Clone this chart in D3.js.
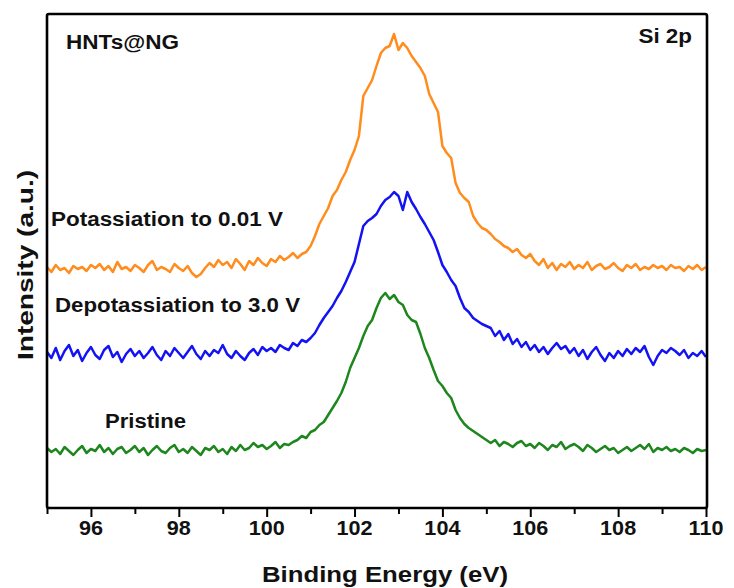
<!DOCTYPE html>
<html lang="en">
<script src="https://d3js.org/d3.v7.min.js"></script>

<head>
  <meta charset="UTF-8">
  <title>Si 2p XPS - HNTs@NG</title>
  <style>
    body {
      margin: 0;
      background: white;
    }

    svg {
      display: block;
    }

    text {
      font-family: "Liberation Sans", Arial, sans-serif;
      fill: #111;
    }

    .frame {
      fill: none;
      stroke: black;
      stroke-width: 2.6px;
      stroke-linejoin: round;
    }

    .spectrum {
      fill: none;
      stroke-width: 2.5px;
      stroke-linejoin: round;
    }

    .tick line {
      stroke: black;
      stroke-width: 2px;
    }
  </style>
</head>

<body>

  <svg width="734" height="588"></svg>

  <script>

    // binding energy grid (eV), one reading every 0.1 eV
    var energy = d3.range(0, 151).map(function (i) { return +(95 + i * 0.1).toFixed(1); });

    var xTicks = [95, 96, 97, 98, 99, 100, 101, 102, 103, 104, 105, 106, 107, 108, 109, 110];
    var xTickLabels = ["96", "98", "100", "102", "104", "106", "108", "110"];

    var seriesNames = ["Potassiation to 0.01 V", "Depotassiation to 3.0 V", "Pristine"];
    var seriesColors = ["#ff8c1c", "#1212f5", "#1d861d"];

    // intensities (a.u., offset stacked)
    var potassiated = [
      241, 236, 243, 238, 240, 235, 242, 239, 241, 237, 243,
      240, 244, 238, 242, 236, 246, 239, 241, 237, 243,
      240, 236, 243, 247, 238, 241, 239, 236, 244, 240,
      237, 242, 235, 231, 234, 240, 245, 241, 248, 243,
      246, 240, 249, 244, 238, 247, 243, 250, 245, 242,
      249, 246, 252, 248, 251, 255, 250, 254, 256, 262,
      272, 284, 292, 300, 312, 318, 328, 336, 348, 358,
      372, 412, 420, 428, 442, 455, 460, 462, 474, 458,
      465, 460, 452, 446, 440, 432, 414, 405, 396, 362,
      355, 350, 325, 315, 310, 306, 292, 285, 280, 278,
      274, 269, 266, 262, 260, 256, 259, 253, 250, 254,
      247, 243, 249, 240, 245, 238, 244, 241, 246, 239,
      243, 240, 246, 238, 242, 244, 239, 241, 245, 240,
      237, 243, 240, 244, 238, 241, 239, 243, 240, 242,
      238, 243, 240, 241, 237, 242, 239, 243, 238, 241
    ];

    var depotassiated = [
      156, 150, 160, 148, 157, 163, 152, 158, 147, 155, 161,
      153, 149, 158, 162, 151, 156, 146, 154, 159, 152,
      157, 150, 155, 161, 153, 148, 157, 152, 160, 155,
      150, 156, 162, 154, 149, 157, 152, 158, 155, 163,
      154, 150, 157, 152, 148, 155, 159, 153, 161, 157,
      160, 156, 163, 160, 158, 165, 162, 168, 166, 170,
      175, 183, 190, 196, 202, 210, 217, 226, 236, 246,
      264, 282, 287, 290, 294, 302, 308, 311, 316, 312,
      298, 316, 306, 299, 291, 284, 276, 268, 256, 243,
      236, 228, 222, 210, 200, 196, 190, 187, 184, 182,
      180, 172, 177, 168, 174, 164, 169, 161, 166, 158,
      163, 156, 161, 154, 160, 165, 159, 162, 155, 160,
      152, 158, 149, 156, 161, 153, 147, 155, 150, 157,
      152, 159, 154, 160, 156, 162, 151, 143, 152, 158,
      155, 160, 157, 153, 158, 150, 155, 152, 157, 151
    ];

    var pristine = [
      60, 56, 59, 54, 61, 57, 53, 58, 62, 55, 59,
      57, 63, 56, 60, 54, 59, 61, 55, 58, 62,
      56, 60, 53, 58, 62, 57, 55, 60, 63, 56,
      59, 55, 61, 57, 53, 60, 58, 62, 56, 59,
      54, 61, 57, 63, 58, 60, 65, 61, 63, 59,
      62, 66, 60, 64, 63, 66, 68, 72, 70, 76,
      78, 83, 86, 93, 100, 107, 115, 126, 140, 150,
      160, 172, 182, 188, 200, 210, 215, 209, 213, 206,
      203, 193, 188, 186, 174, 160, 150, 138, 127, 122,
      115, 110, 98, 90, 84, 80, 77, 74, 71, 68,
      65, 68, 62, 66, 64, 61, 65, 67, 62, 64,
      60, 65, 62, 58, 63, 61, 66, 59, 62, 64,
      61, 57, 63, 60, 56, 59, 62, 58, 60, 55,
      58, 61, 57, 60, 63, 59, 64, 56, 60, 58,
      61, 57, 59, 56, 60, 58, 55, 59, 57, 58
    ];

    var spectra = [potassiated, depotassiated, pristine];

    var svg = d3.select("svg");

    var plotLeft = 47, plotRight = 706, plotTop = 14, plotBottom = 508;

    var x = d3.scaleLinear().domain([95, 110]).range([plotLeft, plotRight]);
    var y = d3.scaleLinear().domain([0, 494]).range([plotBottom, plotTop]);

    // stretch text horizontally so it matches the wide lettering of the figure
    function stretch(sel, k) {
      sel.each(function () {
        var w = this.getComputedTextLength();
        d3.select(this).attr("textLength", w * k).attr("lengthAdjust", "spacingAndGlyphs");
      });
    }

    // spectra
    var line = d3.line()
      .x(function (d, i) { return x(energy[i]); })
      .y(function (d) { return y(d); });

    svg.selectAll(".spectrum")
      .data(spectra)
      .enter().append("path")
      .attr("class", "spectrum")
      .attr("stroke", function (d, i) { return seriesColors[i]; })
      .attr("d", line);

    // bottom axis, major ticks on even values
    var xAxis = svg.append("g")
      .attr("transform", "translate(0," + plotBottom + ")")
      .call(d3.axisBottom(x).tickValues(xTicks).tickSize(8).tickSizeOuter(0).tickFormat(""));

    xAxis.select(".domain").remove();
    xAxis.selectAll(".tick line")
      .attr("y2", function (d) { return d % 2 === 0 ? 9 : 6; });

    svg.selectAll(".xlabel")
      .data(xTickLabels)
      .enter().append("text")
      .attr("class", "xlabel")
      .attr("x", function (d) { return x(+d); })
      .attr("y", 535)
      .attr("text-anchor", "middle")
      .style("font-size", "20px")
      .style("font-weight", "bold")
      .text(function (d) { return d; })
      .call(stretch, 1.08);

    // frame
    svg.append("rect")
      .attr("class", "frame")
      .attr("x", plotLeft)
      .attr("y", plotTop)
      .attr("width", plotRight - plotLeft + 1)
      .attr("height", plotBottom - plotTop)
      .attr("rx", 2);

    // series labels
    var labelPos = [[51, 226, 232], [55, 312, 245], [105, 428, 81]];
    svg.selectAll(".series-label")
      .data(seriesNames)
      .enter().append("text")
      .attr("class", "series-label")
      .attr("x", function (d, i) { return labelPos[i][0]; })
      .attr("y", function (d, i) { return labelPos[i][1]; })
      .attr("textLength", function (d, i) { return labelPos[i][2]; })
      .attr("lengthAdjust", "spacingAndGlyphs")
      .style("font-size", "19.5px")
      .style("font-weight", "bold")
      .text(function (d) { return d; });

    svg.append("text")
      .attr("x", 66)
      .attr("y", 49)
      .attr("textLength", 113)
      .attr("lengthAdjust", "spacingAndGlyphs")
      .style("font-size", "20px")
      .style("font-weight", "bold")
      .text("HNTs@NG");

    svg.append("text")
      .attr("x", 692)
      .attr("y", 43)
      .attr("text-anchor", "end")
      .style("font-size", "20px")
      .style("font-weight", "bold")
      .text("Si 2p")
      .call(stretch, 1.12);

    // axis titles
    svg.append("text")
      .attr("x", 385)
      .attr("y", 582)
      .attr("text-anchor", "middle")
      .attr("textLength", 246)
      .attr("lengthAdjust", "spacingAndGlyphs")
      .style("font-size", "22px")
      .style("font-weight", "bold")
      .text("Binding Energy (eV)");

    svg.append("text")
      .attr("transform", "translate(33,265) rotate(-90)")
      .attr("text-anchor", "middle")
      .attr("textLength", 190)
      .attr("lengthAdjust", "spacingAndGlyphs")
      .style("font-size", "22px")
      .style("font-weight", "bold")
      .text("Intensity (a.u.)");
  </script>

</body>

</html>
